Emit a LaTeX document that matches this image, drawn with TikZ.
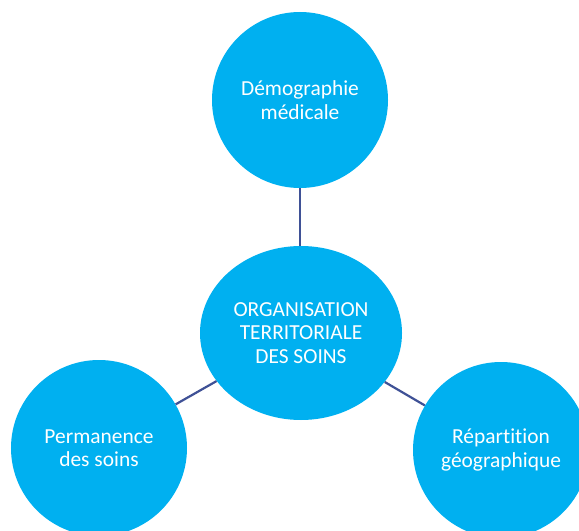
\documentclass[tikz,border=0pt]{standalone}
\usepackage{fontspec}
\setmainfont[Ligatures=NoCommon]{Carlito}
\usetikzlibrary{shapes.geometric}
\definecolor{bub}{RGB}{0,176,240}
\definecolor{lnk}{RGB}{63,81,150}
\begin{document}
\begin{tikzpicture}[x=1bp,y=-1bp,
  bubble/.style={circle,fill=bub,text=white,minimum size=176bp,inner sep=0pt,align=center,font=\fontsize{21.5}{23.5}\selectfont},
  link/.style={draw=lnk,line width=2.2bp}]
\useasboundingbox (0,0) rectangle (579,531);
\clip (0,0) rectangle (579,531);
\node[bubble] (top) at (300,100) {Démographie\\médicale};
\node[bubble,ellipse,minimum width=202bp,minimum height=174bp] (mid) at (301,333) {ORGANISATION\\TERRITORIALE\\DES SOINS};
\node[bubble] (left) at (99,448) {Permanence\\des soins};
\node[bubble] (right) at (501,450) {Répartition\\géographique};
\draw[link] (top.south) -- (top.south |- mid.north);
\draw[link] (mid) -- (left);
\draw[link] (mid) -- (right);
\end{tikzpicture}
\end{document}
